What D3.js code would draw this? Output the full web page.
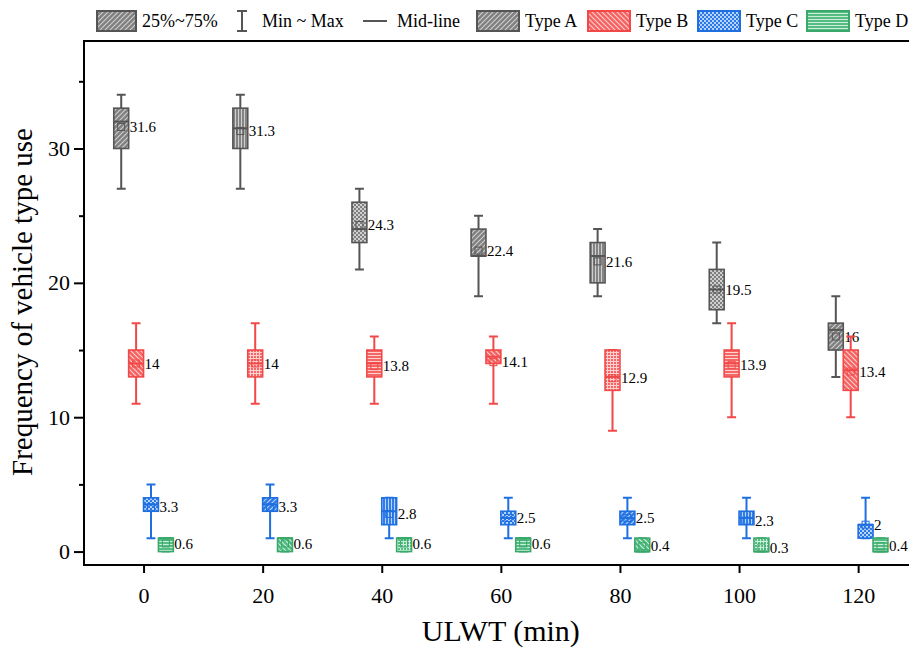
<!DOCTYPE html>
<html>
<head>
<meta charset="utf-8">
<script src="https://cdnjs.cloudflare.com/ajax/libs/d3/7.8.5/d3.min.js"></script>
<style>
  body { margin: 0; background: #fff; }
  svg, svg text { font-family: "Liberation Serif", "Times New Roman", serif; }
</style>
</head>
<body>
<script>
// ---- data ----
var groups = [0, 20, 40, 60, 80, 100, 120];          // ULWT (min)
var types = ['Type A', 'Type B', 'Type C', 'Type D'];
// each row: [min, q1, median, q3, max, mean]
var typeA = [[27, 30, 32, 33, 34, 31.6], [27, 30, 31.5, 33, 34, 31.3], [21, 23, 24, 26, 27, 24.3],
             [19, 22, 22, 24, 25, 22.4], [19, 20, 22, 23, 24, 21.6], [17, 18, 19.5, 21, 23, 19.5],
             [13, 15, 16.5, 17, 19, 16]];
var typeB = [[11, 13, 14, 15, 17, 14], [11, 13, 14, 15, 17, 14], [11, 13, 14, 15, 16, 13.8],
             [11, 14, 14.5, 15, 16, 14.1], [9, 12, 13, 15, 15, 12.9], [10, 13, 14, 15, 17, 13.9],
             [10, 12, 13.5, 15, 16, 13.4]];
var typeC = [[1, 3, 3.5, 4, 5, 3.3], [1, 3, 3.5, 4, 5, 3.3], [1, 2, 3, 4, 4, 2.8],
             [1, 2, 2.5, 3, 4, 2.5], [1, 2, 2.5, 3, 4, 2.5], [1, 2, 2.5, 3, 4, 2.3],
             [1, 1, 2, 2, 4, 2]];
var typeD = [[0, 0, 1, 1, 1, 0.6], [0, 0, 1, 1, 1, 0.6], [0, 0, 1, 1, 1, 0.6],
             [0, 0, 1, 1, 1, 0.6], [0, 0, 0, 1, 1, 0.4], [0, 0, 0, 1, 1, 0.3],
             [0, 0, 0, 1, 1, 0.4]];
var yTicks = [0, 10, 20, 30];
var yMinor = [5, 15, 25, 35];

var stats = [typeA, typeB, typeC, typeD];

// styles
var stroke = ['#555555', '#f24848', '#1f6fe0', '#3aa86a'];
var fill   = ['#808080', '#f46262', '#2c79e6', '#4fba7f'];
var lines  = ['#cfcfcf', '#ffd0d0', '#b4d4ff', '#cdeedb'];
// Origin cycles the fill pattern from box to box
var patterns = [['fwd', 'vert', 'checker'], ['back', 'grid', 'horiz'],
                ['checker', 'fwd', 'vert'], ['horiz', 'back', 'grid']];

var serif = '"Liberation Serif", "Times New Roman", serif';
var width = 909, height = 649;
var margin = { top: 41, left: 84, bottom: 84 };

var svg = d3.select('body').append('svg')
    .attr('width', width)
    .attr('height', height)
    .attr('font-family', serif);

var x = d3.scaleLinear().domain([-10, 130]).range([margin.left, margin.left + 140 * 5.955]);
var y = d3.scaleLinear().domain([-1, 38]).range([height - margin.bottom, margin.top]);

// sub positions of the 4 types inside a 10 min wide slot
var sub = d3.scaleBand().domain(types).range([x(-5) - x(0), x(5) - x(0)]);
var bw = sub.bandwidth();

// ---- patterns ----
var defs = svg.append('defs');
function makePattern(id, kind, bg, fg) {
  var size = { fwd: 5, back: 5, vert: 3, horiz: 3, grid: 3, checker: 4 }[kind];
  var p = defs.append('pattern').attr('id', id)
    .attr('patternUnits', 'userSpaceOnUse')
    .attr('width', size).attr('height', size);
  p.append('rect').attr('width', size).attr('height', size).attr('fill', bg);
  var d;
  if (kind === 'fwd') d = 'M-1,1L1,-1M0,5L5,0M4,6L6,4';
  if (kind === 'back') d = 'M-1,4L1,6M0,0L5,5M4,-1L6,1';
  if (kind === 'vert') d = 'M1.5,0V3';
  if (kind === 'horiz') d = 'M0,1.5H3';
  if (kind === 'grid') d = 'M1.5,0V3M0,1.5H3';
  if (kind === 'checker') {
    p.append('rect').attr('width', 2).attr('height', 2).attr('fill', fg);
    p.append('rect').attr('x', 2).attr('y', 2).attr('width', 2).attr('height', 2).attr('fill', fg);
  } else {
    p.append('path').attr('d', d).attr('stroke', fg).attr('stroke-width', 1.1).attr('fill', 'none');
  }
}
types.forEach(function(t, ti) {
  ['fwd', 'back', 'vert', 'horiz', 'grid', 'checker'].forEach(function(k) {
    makePattern('p' + ti + k, k, fill[ti], lines[ti]);
  });
});

// ---- axes ----
svg.append('g')
    .attr('transform', 'translate(' + margin.left + ',0)')
    .call(d3.axisLeft(y).tickValues(yTicks).tickSize(10).tickPadding(4));
svg.append('g')
    .attr('transform', 'translate(' + margin.left + ',0)')
    .call(d3.axisLeft(y).tickValues(yMinor).tickSize(5).tickFormat(''));

svg.append('g')
    .attr('transform', 'translate(0,' + y.range()[0] + ')')
    .call(d3.axisBottom(x).tickValues(groups).tickSize(8).tickPadding(14));

svg.selectAll('.domain').remove();
svg.selectAll('.tick').select(function() { return this.parentNode; })
    .attr('font-family', serif).attr('font-size', 22);
svg.selectAll('.tick line').attr('stroke', '#000').attr('stroke-width', 2);
svg.selectAll('.tick text').attr('fill', '#000');

// frame (left, top, bottom; right side falls outside the picture)
svg.append('path')
    .attr('d', 'M' + x(130) + ',' + y(38) + 'H' + x(-10) + 'V' + y(-1) + 'H' + x(130))
    .attr('fill', 'none')
    .attr('stroke', '#000')
    .attr('stroke-width', 2);

// titles
svg.append('text')
    .attr('x', x(60)).attr('y', 641)
    .attr('text-anchor', 'middle')
    .attr('font-size', 30)
    .text('ULWT (min)');
svg.append('text')
    .attr('transform', 'translate(32,' + ((y(38) + y(-1)) / 2 - 1) + ') rotate(-90)')
    .attr('text-anchor', 'middle')
    .attr('font-size', 29)
    .text('Frequency of vehicle type use');

// ---- boxes ----
types.forEach(function(t, ti) {
  var g = svg.append('g').attr('class', 'series');
  var c = stroke[ti];
  stats[ti].forEach(function(s, gi) {
    var left = x(groups[gi]) + sub(t);
    var cx = left + bw / 2;
    var capW = bw * 0.6;
    // whiskers
    g.append('path')
      .attr('d', 'M' + cx + ',' + y(s[3]) + 'V' + y(s[4]) + 'M' + (cx - capW / 2) + ',' + y(s[4]) + 'h' + capW +
                 'M' + cx + ',' + y(s[1]) + 'V' + y(s[0]) + 'M' + (cx - capW / 2) + ',' + y(s[0]) + 'h' + capW)
      .attr('stroke', c).attr('stroke-width', 2).attr('fill', 'none');
    // box
    g.append('rect')
      .attr('x', left).attr('y', y(s[3]))
      .attr('width', bw).attr('height', y(s[1]) - y(s[3]))
      .attr('fill', 'url(#p' + ti + patterns[ti][gi % 3] + ')')
      .attr('stroke', c).attr('stroke-width', 1.6);
    // median
    g.append('line')
      .attr('x1', left).attr('x2', left + bw)
      .attr('y1', y(s[2])).attr('y2', y(s[2]))
      .attr('stroke', c).attr('stroke-width', 2);
    // mean
    g.append('rect')
      .attr('x', cx - 3.5).attr('y', y(s[5]) - 3.5)
      .attr('width', 7).attr('height', 7)
      .attr('fill', 'none').attr('stroke', c).attr('stroke-width', 1);
    g.append('text')
      .attr('x', left + bw + 1).attr('y', y(s[5]))
      .attr('dy', '0.35em')
      .attr('font-size', 15)
      .text(s[5]);
  });
});

// ---- legend ----
var lg = svg.append('g').attr('font-size', 18);
var ly = 21;
lg.append('rect').attr('x', 97).attr('y', 11).attr('width', 39).attr('height', 20)
  .attr('fill', 'url(#p0fwd)').attr('stroke', stroke[0]).attr('stroke-width', 2);
lg.append('text').attr('x', 142).attr('y', ly).attr('dy', '0.35em').text('25%~75%');
lg.append('path').attr('d', 'M242,11V31M237,11h10M237,31h10')
  .attr('stroke', stroke[0]).attr('stroke-width', 2).attr('fill', 'none');
lg.append('text').attr('x', 262).attr('y', ly).attr('dy', '0.35em').text('Min ~ Max');
lg.append('path').attr('d', 'M363,21H387').attr('stroke', stroke[0]).attr('stroke-width', 2);
lg.append('text').attr('x', 397).attr('y', ly).attr('dy', '0.35em').text('Mid-line');
var legX = [477, 588, 698, 807];
types.forEach(function(t, ti) {
  lg.append('rect').attr('x', legX[ti]).attr('y', 11).attr('width', 42).attr('height', 20)
    .attr('fill', 'url(#p' + ti + patterns[ti][0] + ')')
    .attr('stroke', stroke[ti]).attr('stroke-width', 2);
  lg.append('text').attr('x', legX[ti] + 48).attr('y', ly).attr('dy', '0.35em').text(t);
});
</script>
</body>
</html>
